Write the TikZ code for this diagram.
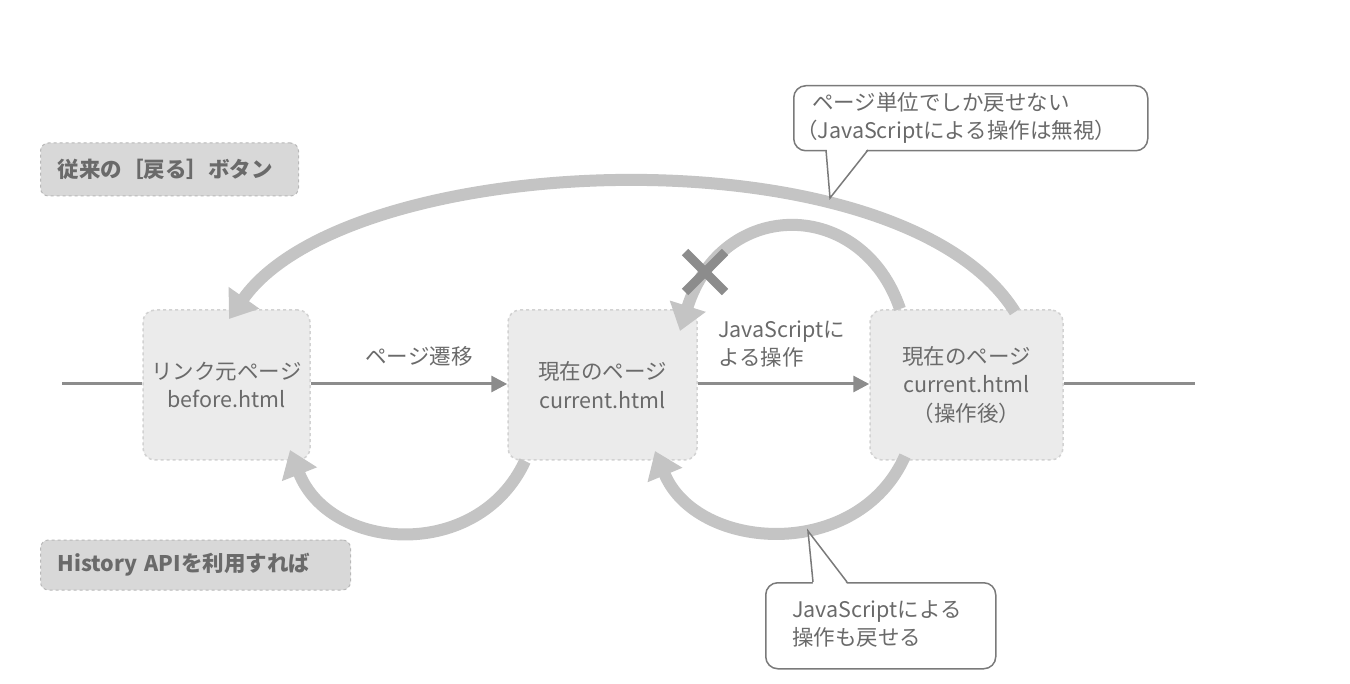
\documentclass[tikz,border=0pt]{standalone}
\usepackage{fontspec}
\setmainfont{Noto Sans CJK JP}
\usetikzlibrary{arrows.meta,calc}
\definecolor{txt}{HTML}{6A6A6A}
\definecolor{arc}{HTML}{C4C4C4}
\definecolor{boxfill}{HTML}{EBEBEB}
\definecolor{boxline}{HTML}{D2D2D2}
\definecolor{tagfill}{HTML}{D8D8D8}
\definecolor{tagline}{HTML}{B8B8B8}
\definecolor{mainline}{HTML}{8C8C8C}
\definecolor{callline}{HTML}{7A7A7A}
\tikzset{
  pagebox/.style={draw=boxline, dashed, line width=1.5pt, fill=boxfill, rounded corners=12pt,
    minimum height=150pt, align=center, text=txt, font=\fontsize{21.5}{28.5}\selectfont},
  tagbox/.style={draw=tagline, dashed, line width=1pt, fill=tagfill, rounded corners=8pt,
    anchor=west, text=txt, font=\fontsize{21.5}{24}\selectfont\bfseries, inner xsep=17pt, align=left},
  lbl/.style={text=txt, font=\fontsize{21.5}{28}\selectfont, align=left},
  flow/.style={draw=mainline, line width=3pt, -{Triangle[length=16pt,width=16pt]}},
  flowplain/.style={draw=mainline, line width=3pt},
  back/.style={draw=arc, line width=12pt, -{Triangle[length=26pt,width=36pt]}},
  callout/.style={draw=callline, line width=1.5pt, fill=white, rounded corners=12pt, inner sep=0pt},
}
\begin{document}
\begin{tikzpicture}[x=1pt,y=-1pt]
\useasboundingbox[fill=white] (0,0) rectangle (1350,684);

% page boxes
\node[pagebox, minimum width=167pt] (b1) at (226.5,385) {リンク元ページ\\before.html};
\node[pagebox, minimum width=189pt] (b2) at (602.5,385) {現在のページ\\current.html};
\node[pagebox, minimum width=193pt] (b3) at (966.5,385) {現在のページ\\current.html\\（操作後）};

% tags
\node[tagbox, text width=224pt, minimum height=53pt] (t1) at (40,169.5) {従来の［戻る］ボタン};
\node[tagbox, text width=276pt, minimum height=50pt] (t2) at (40,565) {History APIを利用すれば};

% timeline
\coordinate (lstart) at (62,384);
\coordinate (lend) at (1195,384);
\draw[flowplain] (lstart) -- (b1.west |- lstart);
\draw[flow] (b1.east |- lstart) -- (b2.west |- lstart);
\draw[flow] (b2.east |- lstart) -- (b3.west |- lstart);
\draw[flowplain] (b3.east |- lend) -- (lend);

\node[lbl, anchor=center] (l1) at (419,356) {ページ遷移};
\node[lbl, anchor=north west, inner sep=0pt] (l2) at (718,321) {JavaScriptに\\よる操作};

% back arcs
\coordinate (a1s) at (1015,312);
\coordinate (a1e) at (229,319);
\draw[back] (a1s) .. controls (900,128) and (350,148) .. (a1e);
\coordinate (a2s) at (900,309);
\coordinate (a2e) at (680,331);
\draw[back] (a2s) .. controls (862,197) and (722,197) .. (a2e);
\coordinate (a3s) at (525,461);
\coordinate (a3e) at (290,450);
\draw[back] (a3s) .. controls (478,562) and (330,552) .. (a3e);
\coordinate (a4s) at (905,456);
\coordinate (a4e) at (655,451);
\draw[back] (a4s) .. controls (858,562) and (697,552) .. (a4e);

% cross
\coordinate (xc) at (705,272);
\draw[mainline, line width=9pt] ($(xc)+(-20,-20)$) -- ($(xc)+(20,20)$);
\draw[mainline, line width=9pt] ($(xc)+(20,-20)$) -- ($(xc)+(-20,20)$);

% callouts
\node[callout, minimum width=354pt, minimum height=65pt, anchor=north west] (c1) at (793,85) {};
\node[lbl, anchor=west, inner sep=0pt] (c1t) at (796,117.5) {\hspace*{16pt}ページ単位でしか戻せない\\（JavaScriptによる操作は無視）};
\coordinate (c1tip) at (830,198);
\fill[white] (826,148) -- (c1tip) -- (868,148) -- cycle;
\draw[callline, line width=1.5pt] (826,150) -- (c1tip) -- (868,150);

\node[callout, minimum width=230pt, minimum height=86pt, anchor=north west] (c2) at (765,582) {};
\node[lbl, anchor=west, inner sep=0pt] (c2t) at (792,624) {JavaScriptによる\\操作も戻せる};
\coordinate (c2tip) at (808,531);
\fill[white] (813,584) -- (c2tip) -- (847,584) -- cycle;
\draw[callline, line width=1.5pt] (813,582) -- (c2tip) -- (847,582);
\end{tikzpicture}
\end{document}
